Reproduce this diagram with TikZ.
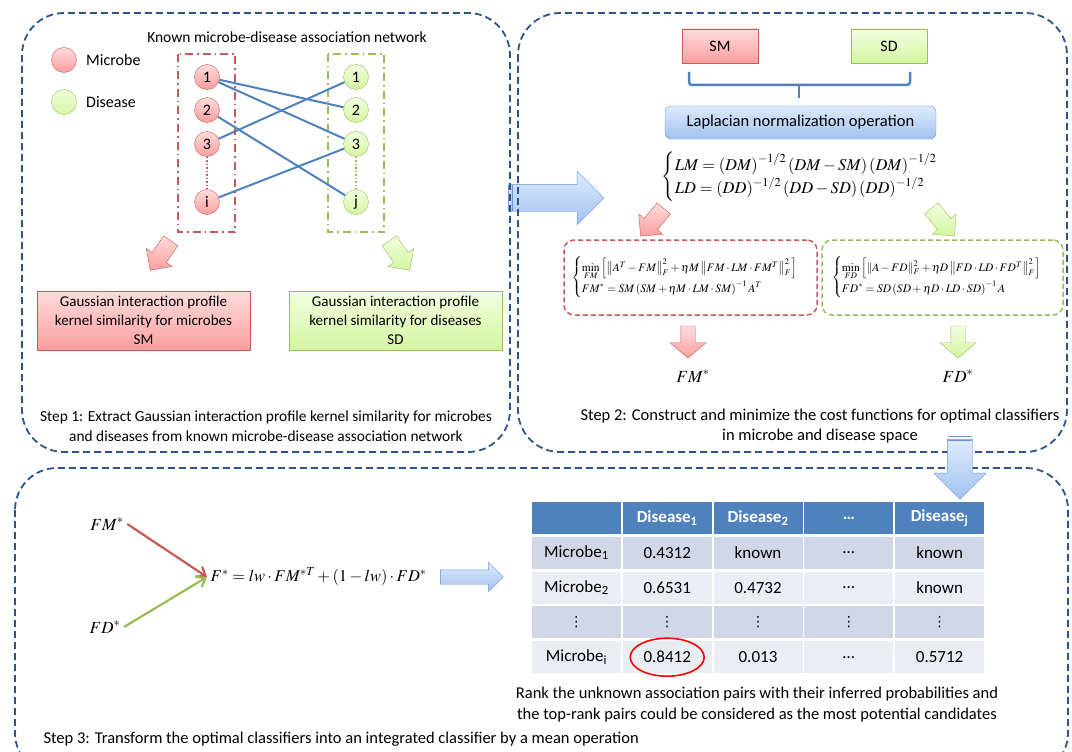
\documentclass[tikz,border=0pt]{standalone}
\usepackage{amsmath}
\usepackage{mathptmx}
\usepackage[no-math]{fontspec}
\setmainfont{Carlito}
\newfontfamily\dotsfont{DejaVu Sans}
\usetikzlibrary{positioning,shapes.arrows,arrows.meta}

\definecolor{panelblue}{RGB}{46,84,138}
\definecolor{linkblue}{RGB}{79,129,189}
\definecolor{mred}{RGB}{200,90,88}
\definecolor{mgreen}{RGB}{155,187,89}
\definecolor{redtop}{RGB}{255,220,220}
\definecolor{redbot}{RGB}{250,158,158}
\definecolor{greentop}{RGB}{242,255,224}
\definecolor{greenbot}{RGB}{212,245,160}
\definecolor{bluetop}{RGB}{222,235,252}
\definecolor{bluebot}{RGB}{162,194,240}
\definecolor{bluebord}{RGB}{108,148,208}
\definecolor{rowdark}{RGB}{208,216,232}
\definecolor{rowlight}{RGB}{233,237,244}

\newcommand\vdot{{\dotsfont\fontsize{14}{14}\selectfont ⋮}}

\tikzset{
  panel/.style={draw=panelblue, line width=1.8pt, dash pattern=on 7pt off 4pt, rounded corners=42pt},
  mball/.style={circle, draw=mred, top color=redtop, bottom color=redbot, minimum size=25pt, inner sep=0pt, font=\fontsize{16}{16}\selectfont},
  dball/.style={circle, draw=mgreen, top color=greentop, bottom color=greenbot, minimum size=25pt, inner sep=0pt, font=\fontsize{16}{16}\selectfont},
  mgroup/.style={draw=mred, line width=1.5pt, dash pattern=on 8pt off 4pt on 1.5pt off 4pt},
  dgroup/.style={draw=mgreen, line width=1.5pt, dash pattern=on 8pt off 4pt on 1.5pt off 4pt},
  link/.style={draw=linkblue, line width=2pt},
  mbox/.style={draw=mred, top color=redtop, bottom color=redbot, align=center, inner sep=0pt},
  dbox/.style={draw=mgreen, top color=greentop, bottom color=greenbot, align=center, inner sep=0pt},
  lapbox/.style={draw=bluebord, top color=bluetop, bottom color=bluebot, rounded corners=6pt, inner sep=0pt},
  mcost/.style={draw=mred, line width=1.5pt, dash pattern=on 5pt off 3pt, rounded corners=10pt, inner sep=0pt},
  dcost/.style={draw=mgreen, line width=1.5pt, dash pattern=on 5pt off 3pt, rounded corners=10pt, inner sep=0pt},
  fatarrow/.style={single arrow, inner xsep=0pt},
  redarrow/.style={fatarrow, draw=mred, top color=redtop, bottom color=redbot},
  greenarrow/.style={fatarrow, draw=mgreen, top color=greentop, bottom color=greenbot},
  bluearrow/.style={fatarrow, draw=bluebord, top color=bluetop, bottom color=bluebot},
  bracket/.style={draw=linkblue, line width=2.5pt, rounded corners=3pt},
  mix/.style={line width=2.2pt, -{Straight Barb[length=8pt,width=12pt]}},
  cell/.style={minimum width=89pt, minimum height=32pt, inner sep=0pt},
  steptext/.style={align=center, font=\fontsize{16.5}{20}\selectfont}
}

\begin{document}
\begin{tikzpicture}[x=1pt, y=-1pt, font=\fontsize{16}{19}\selectfont]
\useasboundingbox (0,0) rectangle (1072,752);

% arrow from step 1 to step 2
\node[bluearrow, minimum height=93pt, inner ysep=13.5pt, single arrow head extend=13pt] (step12) at (550.5,198) {};
\draw[bluebord] (508,185) -- (508,211) (512,185) -- (512,211);

% panels
\draw[panel] (22,13) rectangle (510,452);
\draw[panel] (518,13) rectangle (1067,452);
\draw[panel] (15,468) rectangle (1068,775);

% step 1 : network
\node[font=\fontsize{15.5}{19}\selectfont] (nettitle) at (287,37) {Known microbe-disease association network};
\node[mball] (legm) at (64,60) {};
\node[right=6pt of legm] (legmtxt) {Microbe};
\node[dball] (legd) at (64,102) {};
\node[right=6pt of legd] (legdtxt) {Disease};

\draw[mgroup] (178,54) rectangle (235,232);
\draw[dgroup] (328,54) rectangle (384,232);

\node[mball] (m1) at (207,77) {1};
\node[mball] (m2) at (207,110) {2};
\node[mball] (m3) at (207,144) {3};
\node[mball] (mi) at (207,202) {i};
\node[dball] (d1) at (356,77) {1};
\node[dball] (d2) at (356,110) {2};
\node[dball] (d3) at (356,144) {3};
\node[dball] (dj) at (356,202) {j};

\draw[mred, line width=1.5pt, dotted] (m3) -- (mi);
\draw[mgreen, line width=1.5pt, dotted] (d3) -- (dj);

\draw[link] (m1) -- (d2);
\draw[link] (m1) -- (d3);
\draw[link] (m2) -- (dj);
\draw[link] (m3) -- (d1);
\draw[link] (mi) -- (d3);

\node[redarrow, minimum height=36pt, inner ysep=8.5pt, single arrow head extend=7pt, rotate=-125] (sm1arrow) at (163,252) {};
\node[greenarrow, minimum height=36pt, inner ysep=8.5pt, single arrow head extend=7pt, rotate=-55] (sd1arrow) at (397,252) {};

\node[mbox, minimum width=213pt, minimum height=59pt, font=\fontsize{15}{19}\selectfont] (smbox) at (143.5,320.5) {Gaussian interaction profile\\kernel similarity for microbes\\SM};
\node[dbox, minimum width=213pt, minimum height=59pt, font=\fontsize{15}{19}\selectfont] (sdbox) at (395.5,320.5) {Gaussian interaction profile\\kernel similarity for diseases\\SD};

\node[steptext, font=\fontsize{15.4}{20}\selectfont] (step1) at (266,426) {Step 1: Extract Gaussian interaction profile kernel similarity for microbes\\and diseases from known microbe-disease association network};

% step 2 : cost functions
\node[mbox, minimum width=76pt, minimum height=34pt] (sm) at (720,46) {SM};
\node[dbox, minimum width=76pt, minimum height=34pt] (sd) at (889,46) {SD};
\draw[bracket] (689,72) -- (689,85) -- (910,85) -- (910,72);
\draw[bracket] (799,85) -- (799,98);
\node[lapbox, minimum width=271pt, minimum height=33pt, font=\fontsize{16.5}{19}\selectfont] (lap) at (800.5,122.5) {Laplacian normalization operation};

\node[font=\fontsize{16.5}{19}\selectfont] (lapeq) at (808,177) {$\begin{cases}LM=\left(DM\right)^{-1/2}\left(DM-SM\right)\left(DM\right)^{-1/2}\\ LD=\left(DD\right)^{-1/2}\left(DD-SD\right)\left(DD\right)^{-1/2}\end{cases}$};

\node[redarrow, minimum height=36pt, inner ysep=8.5pt, single arrow head extend=7pt, rotate=-130] (lmarrow) at (655,219) {};
\node[greenarrow, minimum height=36pt, inner ysep=8.5pt, single arrow head extend=7pt, rotate=-50] (ldarrow) at (940,219) {};

\node[mcost, minimum width=253pt, minimum height=75pt] (costm) at (690.5,277.5) {};
\node[dcost, minimum width=241pt, minimum height=75pt] (costd) at (942.5,277.5) {};
\node[font=\fontsize{11.5}{13}\selectfont] (costmeq) at (costm) {$\begin{cases}\min\limits_{FM}\left[\left\|A^T-FM\right\|_F^2+\eta M\left\|FM\cdot LM\cdot FM^T\right\|_F^2\right]\\[5pt] FM^*=SM\left(SM+\eta M\cdot LM\cdot SM\right)^{-1}A^T\end{cases}$};
\node[font=\fontsize{11.5}{13}\selectfont] (costdeq) at (costd) {$\begin{cases}\min\limits_{FD}\left[\left\|A-FD\right\|_F^2+\eta D\left\|FD\cdot LD\cdot FD^T\right\|_F^2\right]\\[5pt] FD^*=SD\left(SD+\eta D\cdot LD\cdot SD\right)^{-1}A\end{cases}$};

\node[redarrow, minimum height=32pt, inner ysep=7pt, single arrow head extend=11pt, single arrow tip angle=100, rotate=-90] (fmarrow) at (688,339) {};
\node[greenarrow, minimum height=32pt, inner ysep=7pt, single arrow head extend=11pt, single arrow tip angle=100, rotate=-90] (fdarrow) at (958,339) {};
\node[font=\fontsize{17}{20}\selectfont] (fmstar) at (693,376) {$FM^*$};
\node[font=\fontsize{17}{20}\selectfont] (fdstar) at (958,376) {$FD^*$};

\node[steptext] (step2) at (820,426) {Step 2: Construct and minimize the cost functions for optimal classifiers\\in microbe and disease space};

% arrow from step 2 to step 3
\node[bluearrow, minimum height=60pt, inner ysep=12.5pt, single arrow head extend=13.5pt, rotate=-90] (step23) at (960,463) {};
\draw[bluebord] (948,436) -- (972,436) (948,440) -- (972,440);

% step 3 : integration
\node[font=\fontsize{17}{20}\selectfont] (fmb) at (107,524) {$FM^*$};
\node[font=\fontsize{17}{20}\selectfont] (fdb) at (105,627) {$FD^*$};
\node[font=\fontsize{16.5}{20}\selectfont, anchor=west] (fstar) at (207,577) {$F^*=lw\cdot FM^{*T}+\left(1-lw\right)\cdot FD^*$};
\draw[mix, draw=mred] (fmb.east) -- (fstar.west);
\draw[mix, draw=mgreen] (fdb.east) -- (fstar.west);
\node[bluearrow, minimum height=63pt, inner ysep=7pt, single arrow head extend=7.5pt, right=10pt of fstar] (rankarrow) {};

% result table
\foreach \txt [count=\c] in {{},Disease\textsubscript{1},Disease\textsubscript{2},\ldots,Disease\textsubscript{j}}
  \node[cell, fill=linkblue, text=white, font=\fontsize{17}{20}\bfseries] (c0\c) at ({485.6+\c*90.8},518) {\txt};
\foreach \rowfill/\lbl/\ca/\cb/\cc/\cd [count=\r] in {
  rowdark/Microbe\textsubscript{1}/0.4312/known/\ldots/known,
  rowlight/Microbe\textsubscript{2}/0.6531/0.4732/\ldots/known,
  rowdark/\vdot/\vdot/\vdot/\vdot/\vdot,
  rowlight/Microbe\textsubscript{i}/0.8412/0.013/\ldots/0.5712}
{
  \foreach \txt [count=\c] in {\lbl,\ca,\cb,\cc,\cd}
    \node[cell, fill=\rowfill, font=\fontsize{17}{20}\selectfont] (c\r\c) at ({485.6+\c*90.8},{518+\r*34.8}) {\txt};
}
\draw[red, line width=1.6pt] (c42) ellipse (37 and 19);

\node[steptext, font=\fontsize{16.5}{21}\selectfont] (ranktext) at (757,705) {Rank the unknown association pairs with their inferred probabilities and\\the top-rank pairs could be considered as the most potential candidates};
\node[anchor=west, font=\fontsize{16.5}{20}\selectfont] (step3) at (40,739) {Step 3: Transform the optimal classifiers into an integrated classifier by a mean operation};
\end{tikzpicture}
\end{document}
